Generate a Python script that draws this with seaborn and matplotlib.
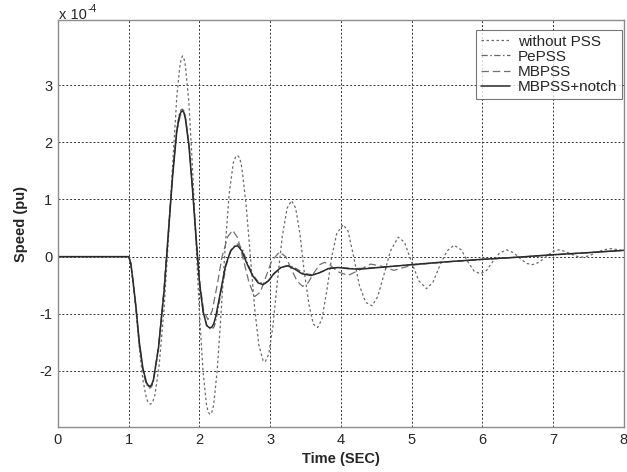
import numpy as np
import pandas as pd
import matplotlib
matplotlib.use("Agg")
import matplotlib.pyplot as plt
import seaborn as sns

# values in units of 1e-4 pu
t_nopss = [0, 1.0, 1.03, 1.06, 1.10, 1.15, 1.20, 1.25, 1.28, 1.31, 1.34, 1.37, 1.43, 1.50, 1.56, 1.62,
           1.68, 1.72, 1.74, 1.76, 1.78, 1.80, 1.85, 1.90, 1.95, 2.00, 2.05, 2.10, 2.125, 2.15, 2.175,
           2.20, 2.25, 2.30, 2.36, 2.42, 2.48, 2.51, 2.54, 2.57, 2.60, 2.66, 2.72, 2.78, 2.84, 2.90,
           2.93, 2.98, 3.04, 3.10, 3.17, 3.24, 3.30, 3.36, 3.42, 3.48, 3.55, 3.61, 3.67, 3.73, 3.80,
           3.87, 3.94, 4.03, 4.10, 4.18, 4.26, 4.35, 4.44, 4.52, 4.60, 4.70, 4.81, 4.90, 5.00, 5.10,
           5.21, 5.30, 5.40, 5.50, 5.60, 5.70, 5.80, 5.88, 5.97, 6.06, 6.15, 6.24, 6.34, 6.44, 6.54,
           6.63, 6.71, 6.80, 6.90, 7.00, 7.08, 7.17, 7.26, 7.35, 7.43, 7.52, 7.62, 7.72, 7.82, 7.92,
           8.00]
v_nopss = [0, 0, -0.12, -0.45, -0.9, -1.6, -2.15, -2.48, -2.56, -2.58, -2.54, -2.42, -1.9, -0.9, 0.3, 1.6,
           2.8, 3.3, 3.45, 3.51, 3.47, 3.35, 2.7, 1.6, 0.3, -1.0, -2.0, -2.6, -2.72, -2.76, -2.72,
           -2.6, -2.0, -1.1, 0.1, 1.1, 1.65, 1.74, 1.77, 1.72, 1.55, 0.9, 0.0, -0.9, -1.55, -1.82,
           -1.84, -1.7, -1.2, -0.45, 0.35, 0.85, 0.98, 0.85, 0.4, -0.25, -0.85, -1.18, -1.24, -1.1, -0.6,
           0.0, 0.4, 0.56, 0.45, 0.0, -0.5, -0.8, -0.86, -0.7, -0.35, 0.1, 0.34, 0.25, -0.1, -0.42,
           -0.56, -0.45, -0.15, 0.1, 0.20, 0.12, -0.1, -0.25, -0.30, -0.24, -0.08, 0.06, 0.12, 0.07, -0.04,
           -0.12, -0.14, -0.10, 0.0, 0.09, 0.12, 0.09, 0.04, 0.0, -0.01, 0.02, 0.08, 0.12, 0.14, 0.12,
           0.10]

t_pepss = [0, 1.0, 1.03, 1.06, 1.10, 1.15, 1.20, 1.25, 1.275, 1.30, 1.325, 1.35, 1.42, 1.50, 1.56, 1.62,
           1.68, 1.72, 1.74, 1.76, 1.78, 1.80, 1.85, 1.90, 1.95, 2.00, 2.05, 2.11, 2.15, 2.18, 2.21,
           2.24, 2.31, 2.38, 2.45, 2.51, 2.55, 2.61, 2.68, 2.76, 2.84, 2.92, 2.99, 3.07, 3.17, 3.27,
           3.37, 3.47, 3.60, 3.72, 3.85, 4.0, 4.2, 4.5, 5.0, 5.5, 6.0, 6.5, 7.0, 7.5, 8.0]
v_pepss = [0, 0, -0.12, -0.43, -0.87, -1.52, -1.98, -2.23, -2.28, -2.3, -2.27, -2.18, -1.62, -0.6, 0.42, 1.45,
           2.25, 2.52, 2.57, 2.58, 2.55, 2.45, 1.98, 1.22, 0.36, -0.45, -0.97, -1.22, -1.26, -1.27, -1.22,
           -1.07, -0.6, -0.15, 0.12, 0.21, 0.22, 0.12, -0.12, -0.33, -0.45, -0.47, -0.41, -0.28, -0.18, -0.15,
           -0.21, -0.29, -0.32, -0.27, -0.2, -0.19, -0.21, -0.19, -0.14, -0.09, -0.05, -0.01, 0.03, 0.07, 0.11]

t_mbpss = [0, 1.0, 1.03, 1.06, 1.10, 1.15, 1.20, 1.25, 1.275, 1.30, 1.325, 1.35, 1.42, 1.50, 1.56, 1.62,
           1.68, 1.73, 1.75, 1.77, 1.79, 1.81, 1.86, 1.91, 1.96, 2.01, 2.06, 2.12, 2.18, 2.25, 2.32,
           2.40, 2.47, 2.54, 2.62, 2.70, 2.78, 2.86, 2.94, 3.02, 3.13, 3.22, 3.30, 3.38, 3.46, 3.54,
           3.62, 3.70, 3.77, 3.85, 3.95, 4.10, 4.25, 4.42, 4.58, 4.75, 5.0, 5.5, 6.0, 6.5, 7.0, 7.5,
           8.0]
v_mbpss = [0, 0, -0.12, -0.44, -0.88, -1.55, -2.0, -2.24, -2.27, -2.28, -2.24, -2.15, -1.58, -0.55, 0.45, 1.45,
           2.2, 2.47, 2.51, 2.52, 2.49, 2.38, 1.88, 1.1, 0.25, -0.5, -0.95, -1.1, -0.95, -0.5, 0.0,
           0.35, 0.46, 0.33, -0.05, -0.45, -0.70, -0.62, -0.35, -0.08, 0.08, 0.0, -0.22, -0.43, -0.52, -0.45,
           -0.28, -0.14, -0.10, -0.15, -0.26, -0.33, -0.24, -0.13, -0.17, -0.24, -0.15, -0.09, -0.05, -0.01, 0.03, 0.07,
           0.11]

t_notch = [0, 1.0, 1.03, 1.06, 1.10, 1.15, 1.20, 1.25, 1.275, 1.30, 1.325, 1.35, 1.42, 1.50, 1.56, 1.62,
           1.68, 1.72, 1.74, 1.76, 1.78, 1.80, 1.85, 1.90, 1.95, 2.00, 2.05, 2.10, 2.135, 2.17, 2.20,
           2.23, 2.30, 2.37, 2.44, 2.50, 2.54, 2.60, 2.67, 2.75, 2.83, 2.90, 2.97, 3.05, 3.15, 3.25,
           3.35, 3.45, 3.58, 3.70, 3.82, 3.96, 4.10, 4.26, 4.54, 5.0, 5.5, 5.96, 6.5, 6.95, 7.5, 8.0]
v_notch = [0, 0, -0.12, -0.42, -0.85, -1.5, -1.95, -2.2, -2.25, -2.27, -2.24, -2.15, -1.6, -0.6, 0.4, 1.4,
           2.2, 2.48, 2.53, 2.55, 2.52, 2.42, 1.95, 1.2, 0.35, -0.45, -0.95, -1.2, -1.24, -1.24, -1.18,
           -1.05, -0.6, -0.15, 0.1, 0.18, 0.19, 0.1, -0.12, -0.33, -0.46, -0.49, -0.43, -0.3, -0.19, -0.16,
           -0.22, -0.3, -0.33, -0.28, -0.21, -0.19, -0.21, -0.22, -0.19, -0.14, -0.09, -0.05, -0.01, 0.03, 0.07, 0.11]

labels = ["without PSS", "PePSS", "MBPSS", "MBPSS+notch"]
xticks = list(range(0, 9))
yticks = [-2, -1, 0, 1, 2, 3]


def main():
    sns.set_style("white")
    plt.rcParams["font.family"] = ["Liberation Sans", "DejaVu Sans"]

    fig = plt.figure(figsize=(6.27, 4.72), dpi=100)
    ax = fig.add_axes([0.0925, 0.0953, 0.9025, 0.8613])

    series = [
        (t_nopss, v_nopss, (0, (2, 2)), "#6a6a6a", 0.9),
        (t_pepss, v_pepss, (0, (5, 2, 1.2, 2)), "#666666", 0.9),
        (t_mbpss, v_mbpss, (0, (6, 3)), "#707070", 0.9),
        (t_notch, v_notch, "-", "#2a2a2a", 1.1),
    ]
    for (t, v, ls, col, lw), lab in zip(series, labels):
        sns.lineplot(x=np.array(t), y=np.array(v) * 1e-4, ax=ax, linestyle=ls,
                     color=col, linewidth=lw, label=lab, sort=False, estimator=None)

    ax.set_xlim(0, 8)
    ax.set_ylim(-2.98e-4, 4.13e-4)
    ax.set_xticks(xticks)
    ax.set_yticks([y * 1e-4 for y in yticks])
    ax.set_xticklabels([str(x) for x in xticks], fontsize=10.5)
    ax.set_yticklabels([str(y) for y in yticks], fontsize=10.5)
    ax.tick_params(direction="in", length=4, color="#555555", pad=4)
    ax.grid(True, color="#333333", linestyle=(0, (2, 2)), linewidth=0.7)
    for s in ax.spines.values():
        s.set_color("#8c8c8c")
        s.set_linewidth(1.0)

    ax.set_xlabel("Time (SEC)", fontsize=10.5, fontweight="bold", labelpad=4)
    ax.set_ylabel("Speed (pu)", fontsize=10.5, fontweight="bold", labelpad=8)

    # MATLAB-style exponent label above the axes
    fig.text(59 / 627, 1 - 19 / 472, "x 10", fontsize=10.5, ha="left", va="baseline")
    fig.text(88 / 627, 1 - 12 / 472, "-4", fontsize=7.5, ha="left", va="baseline")

    leg = ax.legend(loc="upper right", bbox_to_anchor=(622 / 627, 1 - 30 / 472),
                    bbox_transform=fig.transFigure, fontsize=11, frameon=True,
                    fancybox=False, borderaxespad=0, handlelength=1.9, labelspacing=0.08,
                    borderpad=0.3, handletextpad=0.55)
    leg.get_frame().set_edgecolor("#555555")
    leg.get_frame().set_linewidth(0.8)

    fig.savefig("out.png", dpi=100)
    plt.close(fig)


if __name__ == "__main__":
    main()
